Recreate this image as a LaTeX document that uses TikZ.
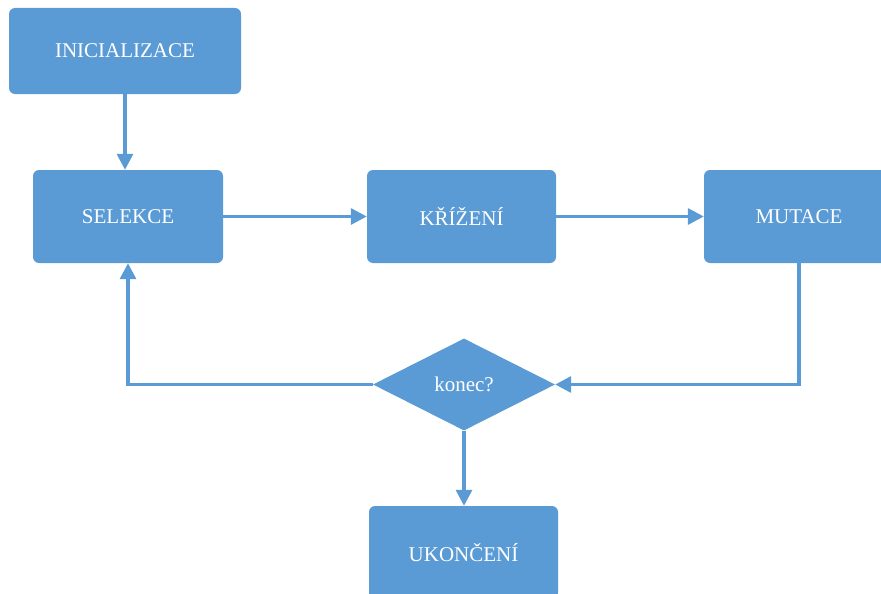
\documentclass[tikz,border=0pt]{standalone}
\usepackage{fontspec}
\setmainfont{Liberation Serif}
\usetikzlibrary{shapes.geometric,arrows.meta}
\definecolor{boxblue}{HTML}{5B9BD5}
\tikzset{
  stepbox/.style={draw=none, fill=boxblue, rounded corners=6pt, text=white, font=\fontsize{21}{24}\selectfont, inner sep=0pt},
  decbox/.style={diamond, draw=none, fill=boxblue, text=white, font=\fontsize{21}{24}\selectfont, inner sep=0pt, minimum width=182pt, minimum height=92pt},
  conn/.style={draw=boxblue, line width=3.3pt, -{Triangle[length=16pt,width=16pt]}}
}
\begin{document}
\begin{tikzpicture}[x=1pt,y=1pt]
\useasboundingbox (0,0) rectangle (881,-594);
\clip (0,0) rectangle (881,-594);
\node[stepbox, minimum width=232pt, minimum height=86pt] (init) at (125,-51) {INICIALIZACE};
\node[stepbox, minimum width=190pt, minimum height=93pt] (sel) at (128,-216.5) {SELEKCE};
\node[stepbox, minimum width=189pt, minimum height=93pt] (kriz) at (461.5,-216.5) {KŘÍŽENÍ};
\node[stepbox, minimum width=190pt, minimum height=93pt] (mut) at (799,-216.5) {MUTACE};
\node[decbox] (dec) at (464,-384.5) {konec?};
\node[stepbox, minimum width=189pt, minimum height=93pt] (ukon) at (463.5,-552.5) {UKONČENÍ};
\draw[conn] (init.south) -- (init.south |- sel.north);
\draw[conn] (sel.east) -- (kriz.west);
\draw[conn] (kriz.east) -- (mut.west);
\draw[conn] (mut.south) |- (dec.east);
\draw[conn] (dec.west) -| (sel.south);
\draw[conn] (dec.south) -- (dec.south |- ukon.north);
\end{tikzpicture}
\end{document}
